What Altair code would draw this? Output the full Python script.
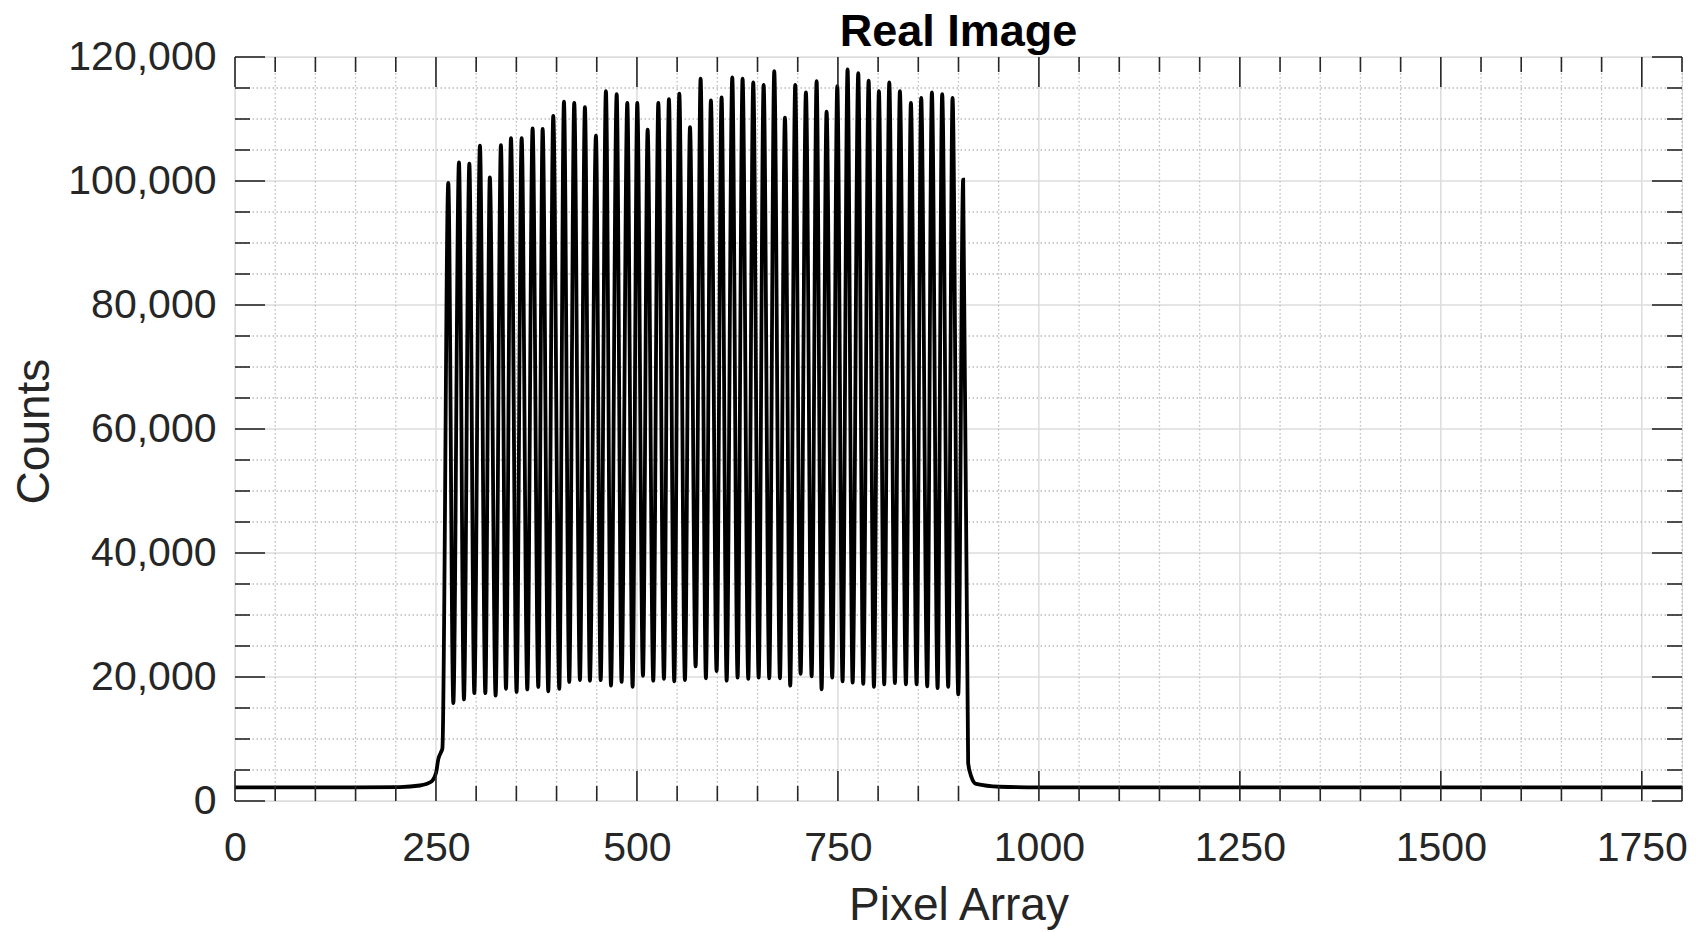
import altair as alt
import pandas as pd

# ---- data ----
title_text = "Real Image"
x_title = "Pixel Array"
y_title = "Counts"

lead_x = [0, 150, 205, 230, 244, 250, 253, 256, 258]
lead_y = [2200, 2200, 2250, 2500, 3100, 4500, 6800, 7800, 8500]

peak_x = [265.3, 278.6, 291.5, 304.7, 317.0, 330.8, 343.3, 356.6, 370.2, 382.7,
          395.9, 409.2, 422.0, 435.3, 449.0, 461.4, 474.8, 488.0, 500.4, 513.3,
          526.6, 539.8, 552.7, 566.0, 579.2, 592.0, 605.3, 618.6, 631.4, 644.7,
          657.6, 670.8, 684.1, 696.9, 710.2, 723.5, 735.9, 749.2, 762.0, 775.3,
          788.2, 801.0, 813.9, 827.1, 840.8, 853.6, 866.9, 879.7, 892.6, 905.8]
peak_y = [99700, 103000, 102800, 105700, 100600, 105800, 106900, 106900, 108500, 108400,
          110500, 112800, 112600, 111900, 107300, 114500, 114000, 112600, 112600, 108300,
          112600, 113200, 114100, 108700, 116500, 113000, 113500, 116700, 116500, 115900,
          115500, 117700, 110200, 115500, 114300, 116100, 111200, 115300, 118000, 117400,
          116200, 114500, 115900, 114500, 112600, 113400, 114300, 114000, 113400, 100200]

trough_x = [271.6, 284.8, 297.7, 311.4, 324.2, 337.1, 350.3, 363.6, 377.3, 389.7,
            403.4, 415.8, 429.1, 441.5, 454.9, 467.7, 480.9, 494.6, 507.5, 520.3,
            533.6, 546.4, 559.7, 573.0, 585.8, 599.1, 611.6, 625.2, 638.5, 651.4,
            664.6, 677.9, 690.7, 703.6, 717.3, 729.7, 742.9, 755.8, 768.3, 781.5,
            794.8, 807.6, 820.9, 834.6, 847.9, 861.1, 874.0, 887.2, 899.7]
trough_y = [15800, 16400, 17400, 17400, 17000, 18100, 17600, 18000, 18400, 17700,
            18100, 19200, 19500, 19400, 19500, 18600, 19200, 18400, 20200, 19400,
            19700, 19300, 19500, 21700, 19800, 20950, 19400, 19900, 19700, 19900,
            19800, 19800, 18600, 20500, 20100, 18000, 19900, 19300, 19100, 18900,
            18400, 18800, 19000, 18800, 18800, 18500, 18200, 18400, 17200]

tail_x = [912, 916, 922, 951, 1000, 1800]
tail_y = [6100, 3900, 2750, 2300, 2200, 2200]

x_major = [0, 250, 500, 750, 1000, 1250, 1500, 1750]
x_minor = [v for v in range(0, 1801, 50) if v % 250 != 0]
y_major = [0, 20000, 40000, 60000, 80000, 100000, 120000]
y_minor = [v for v in range(0, 120001, 5000) if v % 20000 != 0]

# ---- assemble the trace ----
xs, ys = list(lead_x), list(lead_y)
for i in range(len(peak_x)):
    xs.append(peak_x[i]); ys.append(peak_y[i])
    if i < len(trough_x):
        xs.append(trough_x[i]); ys.append(trough_y[i])
xs += tail_x
ys += tail_y
trace = pd.DataFrame({"x": xs, "y": ys})

W, H = 1447, 744
FONT = "Liberation Sans"
TXT = "#262626"

xscale = alt.Scale(domain=[0, 1800], nice=False, zero=False)
yscale = alt.Scale(domain=[0, 120000], nice=False)

xaxis = alt.Axis(values=x_major, format="d", labelFontSize=41, labelFont=FONT,
                 labelColor=TXT, tickSize=0, domain=False, grid=False,
                 labelPadding=27, labelFlush=False, labelOverlap=False,
                 title=x_title, titleFontSize=46, titleFont=FONT,
                 titleFontWeight="normal", titleColor=TXT,
                 titleBaseline="alphabetic", titleY=118)
yaxis = alt.Axis(values=y_major, format=",d", labelFontSize=41, labelFont=FONT,
                 labelColor=TXT, tickSize=0, domain=False, grid=False,
                 labelPadding=19, labelFlush=False, labelOverlap=False,
                 title=y_title, titleFontSize=46, titleFont=FONT,
                 titleFontWeight="normal", titleColor=TXT, titleAngle=270,
                 titleBaseline="alphabetic", titleX=-187, titleY=H / 2 + 2)

X = alt.X("x:Q", scale=xscale, axis=xaxis)
Y = alt.Y("y:Q", scale=yscale, axis=yaxis)

dfx_major = pd.DataFrame({"x": x_major})
dfx_minor = pd.DataFrame({"x": x_minor})
dfy_major = pd.DataFrame({"y": y_major})
dfy_minor = pd.DataFrame({"y": y_minor})

grid_x_major = alt.Chart(dfx_major).mark_rule(color="#dcdcdc", strokeWidth=1.5).encode(x=X)
grid_y_major = alt.Chart(dfy_major).mark_rule(color="#dcdcdc", strokeWidth=1.5).encode(y=Y)
grid_x_minor = alt.Chart(dfx_minor).mark_rule(color="#bcbcbc", strokeWidth=1.3,
                                              strokeDash=[1.5, 2.5]).encode(x=X)
grid_y_minor = alt.Chart(dfy_minor).mark_rule(color="#bcbcbc", strokeWidth=1.3,
                                              strokeDash=[1.5, 2.5]).encode(y=Y)

line = alt.Chart(trace).mark_line(color="black", strokeWidth=3.8,
                                  interpolate="monotone", clip=True).encode(x=X, y=Y)

TC = "#262626"
TW = 1.6
ticks = []
for df, L in [(dfx_major, 30), (dfx_minor, 15)]:
    ticks.append(alt.Chart(df).mark_rule(color=TC, strokeWidth=TW).encode(
        x=X, y=alt.value(H), y2=alt.value(H - L)))
    ticks.append(alt.Chart(df).mark_rule(color=TC, strokeWidth=TW).encode(
        x=X, y=alt.value(0), y2=alt.value(L)))
for df, L in [(dfy_major, 30), (dfy_minor, 15)]:
    ticks.append(alt.Chart(df).mark_rule(color=TC, strokeWidth=TW).encode(
        y=Y, x=alt.value(0), x2=alt.value(L)))
    ticks.append(alt.Chart(df).mark_rule(color=TC, strokeWidth=TW).encode(
        y=Y, x=alt.value(W), x2=alt.value(W - L)))

title = alt.Chart(pd.DataFrame({"t": [title_text]})).mark_text(
    fontSize=45, fontWeight="bold", font=FONT, color="black",
    baseline="alphabetic", align="center").encode(
    text="t:N", x=alt.value(W / 2), y=alt.value(-11))

chart = alt.layer(grid_x_major, grid_y_major, grid_x_minor, grid_y_minor, line,
                  *ticks, title).properties(
    width=W, height=H,
    padding={"left": 227, "top": 49, "right": 6, "bottom": 130},
    autosize=alt.AutoSizeParams(type="none"),
).configure_view(stroke=TC, strokeWidth=1.6).configure(background="white")

chart.save("out.html", embed_options={"renderer": "svg", "actions": False})
